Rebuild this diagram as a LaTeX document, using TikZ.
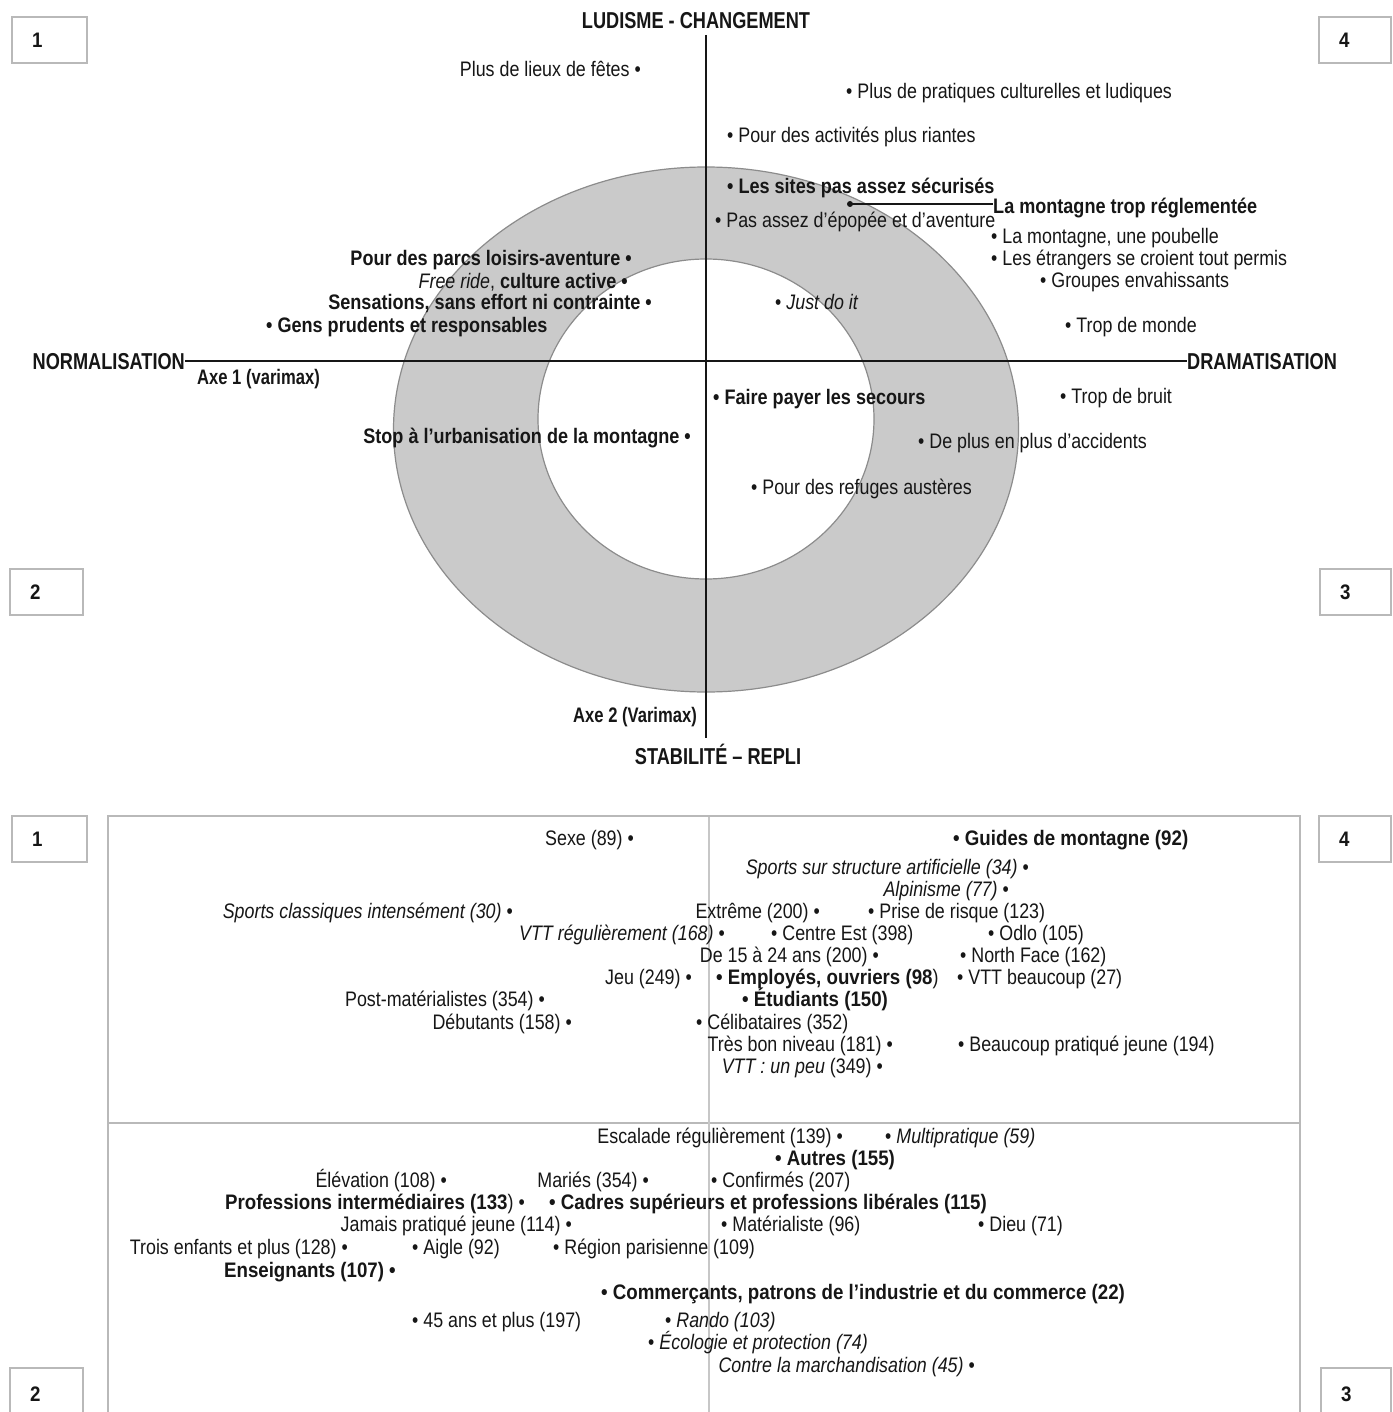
\documentclass[tikz,border=0pt]{standalone}
\usepackage{fontspec}
\setmainfont{Liberation Sans}[FakeStretch=0.85]
\newfontfamily\bfam{Liberation Sans}[FakeStretch=0.86]
\newfontfamily\bfamb{Liberation Sans}[FakeStretch=0.89]
\newfontfamily\afam{Liberation Sans}[FakeStretch=0.79]
\newcommand\B[1]{{\bfam\bfseries #1}}
\newcommand\BB[1]{{\bfamb\bfseries #1}}
\newcommand\I[1]{{\itshape #1}}
\definecolor{ringfill}{RGB}{202,202,202}
\definecolor{ringline}{RGB}{140,140,140}
\definecolor{boxline}{RGB}{185,185,185}
\definecolor{frameline}{RGB}{185,185,185}
\definecolor{inkc}{RGB}{22,22,22}
\begin{document}
\begin{tikzpicture}[x=1pt,y=-1pt,
  lbl/.style={inner sep=0pt, text height=15pt, text depth=0pt, font=\fontsize{21}{24}\selectfont, text=inkc},
  lt/.style={lbl, anchor=west},
  rt/.style={lbl, anchor=east},
  axlab/.style={inner sep=0pt, text height=16.5pt, text depth=0pt, font=\fontsize{23}{26}\selectfont\afam\bfseries, text=inkc},
  axsub/.style={inner sep=0pt, text height=15pt, text depth=0pt, font=\fontsize{21}{24}\selectfont\afam\bfseries, text=inkc},
  numbox/.style={draw=boxline, line width=1.6pt, fill=white, inner xsep=20pt, inner ysep=0pt,
    minimum height=46pt, align=left, text height=15pt, text depth=0pt,
    font=\fontsize{21}{24}\selectfont\bfamb\bfseries, text=inkc},
  axisline/.style={draw=inkc, line width=1.4pt},
  ring/.style={fill=ringfill, even odd rule},
  ringedge/.style={draw=ringline, line width=1.2pt},
  frame/.style={draw=frameline, line width=1.8pt},
  divider/.style={draw=frameline!80, line width=1.4pt},
  dotmark/.style={circle, fill=inkc, inner sep=0pt, minimum size=6pt},
  link/.style={draw=inkc, line width=1.2pt}
]
\path[use as bounding box, clip] (0,0) rectangle (1392,1412);
\fill[white] (0,0) rectangle (1392,1412);

% ---------- ring ----------
\path[ring] (706,429.5) ellipse [x radius=312.5pt, y radius=262.5pt]
            (706,419) ellipse [x radius=168pt, y radius=160pt];
\path[ringedge] (706,429.5) ellipse [x radius=312.5pt, y radius=262.5pt];
\path[ringedge] (706,419) ellipse [x radius=168pt, y radius=160pt];

% ---------- axis labels ----------
\node[axlab] (ludisme) at (696,20) {LUDISME - CHANGEMENT};
\node[axlab, anchor=east] (norm) at (185,361) {NORMALISATION};
\node[axlab, anchor=west] (dram) at (1187,361) {DRAMATISATION};
\node[axsub, anchor=west] (axe1) at (197,377) {Axe 1 (varimax)};
\node[axsub, anchor=east] (axe2) at (697,715) {Axe 2 (Varimax)};
\node[axlab] (stab) at (718,756) {STABILITÉ – REPLI};
\coordinate (vtop) at (706,35);
\coordinate (vbot) at (706,738);
\path[axisline] (norm.east) -- (norm.east -| dram.west);
\path[axisline] (vtop) -- (vbot);

% ---------- top items ----------
\node[rt] (t1) at (641,69) {Plus de lieux de fêtes •};
\node[lt] (t2) at (846,91) {• Plus de pratiques culturelles et ludiques};
\node[lt] (t3) at (727,135) {• Pour des activités plus riantes};
\node[lt] (t4) at (727,186) {\B{• Les sites pas assez sécurisés}};
\node[lt] (t5) at (993,206) {\B{La montagne trop réglementée}};
\node[lt] (t6) at (715,220) {• Pas assez d’épopée et d’aventure};
\node[lt] (t7) at (991,236) {• La montagne, une poubelle};
\node[lt] (t8) at (991,258) {• Les étrangers se croient tout permis};
\node[lt] (t9) at (1040,280) {• Groupes envahissants};
\node[lt] (t10) at (775,302) {• \I{Just do it}};
\node[lt] (t11) at (1065,325) {• Trop de monde};
\node[lt] (t12) at (1060,396) {• Trop de bruit};
\node[lt] (t13) at (918,441) {• De plus en plus d’accidents};
\node[lt] (t14) at (751,487) {• Pour des refuges austères};
\node[lt] (t15) at (713,397) {\B{• Faire payer les secours}};
\node[rt] (t16) at (691,436) {\B{Stop à l’urbanisation de la montagne •}};
\node[rt] (t17) at (632,258) {\B{Pour des parcs loisirs-aventure •}};
\node[rt] (t18) at (628,281) {\I{Free ride}, \B{culture active •}};
\node[rt] (t19) at (652,302) {\B{Sensations, sans effort ni contrainte •}};
\node[lt] (t20) at (266,325) {\B{• Gens prudents et responsables}};
\node[dotmark] (dot) at (850,204) {};
\path[link] (dot.center) -- (dot.center -| t5.west);

% ---------- number boxes (top) ----------
\node[numbox, text width=35pt] (nA1) at (49.5,40) {1};
\node[numbox, text width=32pt] (nA4) at (1355,40) {4};
\node[numbox, text width=33pt] (nA2) at (46.5,592) {2};
\node[numbox, text width=31pt] (nA3) at (1355.5,592) {3};

% ---------- bottom frame ----------
\path[frame] (108,816) rectangle (1300,1440);
\path[frame] (108,1123) -- (1300,1123);
\path[divider] (709,817) -- (709,1440);

% ---------- number boxes (bottom) ----------
\node[numbox, text width=35pt] (nB1) at (49.5,839) {1};
\node[numbox, text width=32pt] (nB4) at (1355,839) {4};
\node[numbox, text width=33pt, minimum height=52pt] (nB2) at (46.5,1394) {2};
\node[numbox, text width=30pt, minimum height=52pt] (nB3) at (1356,1394) {3};

% ---------- bottom items ----------
\node[rt] (b1) at (634,838) {Sexe (89) •};
\node[lt] (b2) at (953,838) {\BB{• Guides de montagne (92)}};
\node[rt] (b3) at (1029,867) {\I{Sports sur structure artificielle (34)} •};
\node[rt] (b4) at (1009,889) {\I{Alpinisme (77)} •};
\node[rt] (b5) at (513,911) {\I{Sports classiques intensément (30)} •};
\node[rt] (b6) at (820,911) {Extrême (200) •};
\node[lt] (b7) at (868,911) {• Prise de risque (123)};
\node[rt] (b8) at (725,933) {\I{VTT régulièrement (168)} •};
\node[lt] (b9) at (771,933) {• Centre Est (398)};
\node[lt] (b10) at (988,933) {• Odlo (105)};
\node[rt] (b11) at (879,955) {De 15 à 24 ans (200) •};
\node[lt] (b12) at (960,955) {• North Face (162)};
\node[rt] (b13) at (692,977) {Jeu (249) •};
\node[lt] (b14) at (716,977) {\BB{• Employés, ouvriers (98})};
\node[lt] (b15) at (957,977) {• VTT beaucoup (27)};
\node[lt] (b16) at (742,999) {\BB{• Étudiants (150)}};
\node[rt] (b17) at (545,999) {Post-matérialistes (354) •};
\node[rt] (b18) at (572,1022) {Débutants (158) •};
\node[lt] (b19) at (696,1022) {• Célibataires (352)};
\node[rt] (b20) at (893,1044) {Très bon niveau (181) •};
\node[lt] (b21) at (958,1044) {• Beaucoup pratiqué jeune (194)};
\node[rt] (b22) at (883,1066) {\I{VTT : un peu} (349) •};

\node[rt] (b23) at (843,1136) {Escalade régulièrement (139) •};
\node[lt] (b24) at (885,1136) {• \I{Multipratique (59)}};
\node[lt] (b25) at (775,1158) {\BB{• Autres (155)}};
\node[rt] (b26) at (447,1180) {Élévation (108) •};
\node[rt] (b27) at (649,1180) {Mariés (354) •};
\node[lt] (b28) at (711,1180) {• Confirmés (207)};
\node[rt] (b29) at (525,1202) {\BB{Professions intermédiaires (133}) •};
\node[lt] (b30) at (549,1202) {\BB{• Cadres supérieurs et professions libérales (115)}};
\node[rt] (b31) at (572,1224) {Jamais pratiqué jeune (114) •};
\node[lt] (b32) at (721,1224) {• Matérialiste (96)};
\node[lt] (b33) at (978,1224) {• Dieu (71)};
\node[rt] (b34) at (348,1247) {Trois enfants et plus (128) •};
\node[lt] (b35) at (412,1247) {• Aigle (92)};
\node[lt] (b36) at (553,1247) {• Région parisienne (109)};
\node[rt] (b37) at (396,1270) {\BB{Enseignants (107) •}};
\node[lt] (b38) at (601,1292) {\BB{• Commerçants, patrons de l’industrie et du commerce (22)}};
\node[lt] (b39) at (412,1320) {• 45 ans et plus (197)};
\node[lt] (b40) at (665,1320) {• \I{Rando (103)}};
\node[lt] (b41) at (648,1342) {• \I{Écologie et protection (74)}};
\node[rt] (b42) at (975,1365) {\I{Contre la marchandisation (45)} •};
\end{tikzpicture}
\end{document}
